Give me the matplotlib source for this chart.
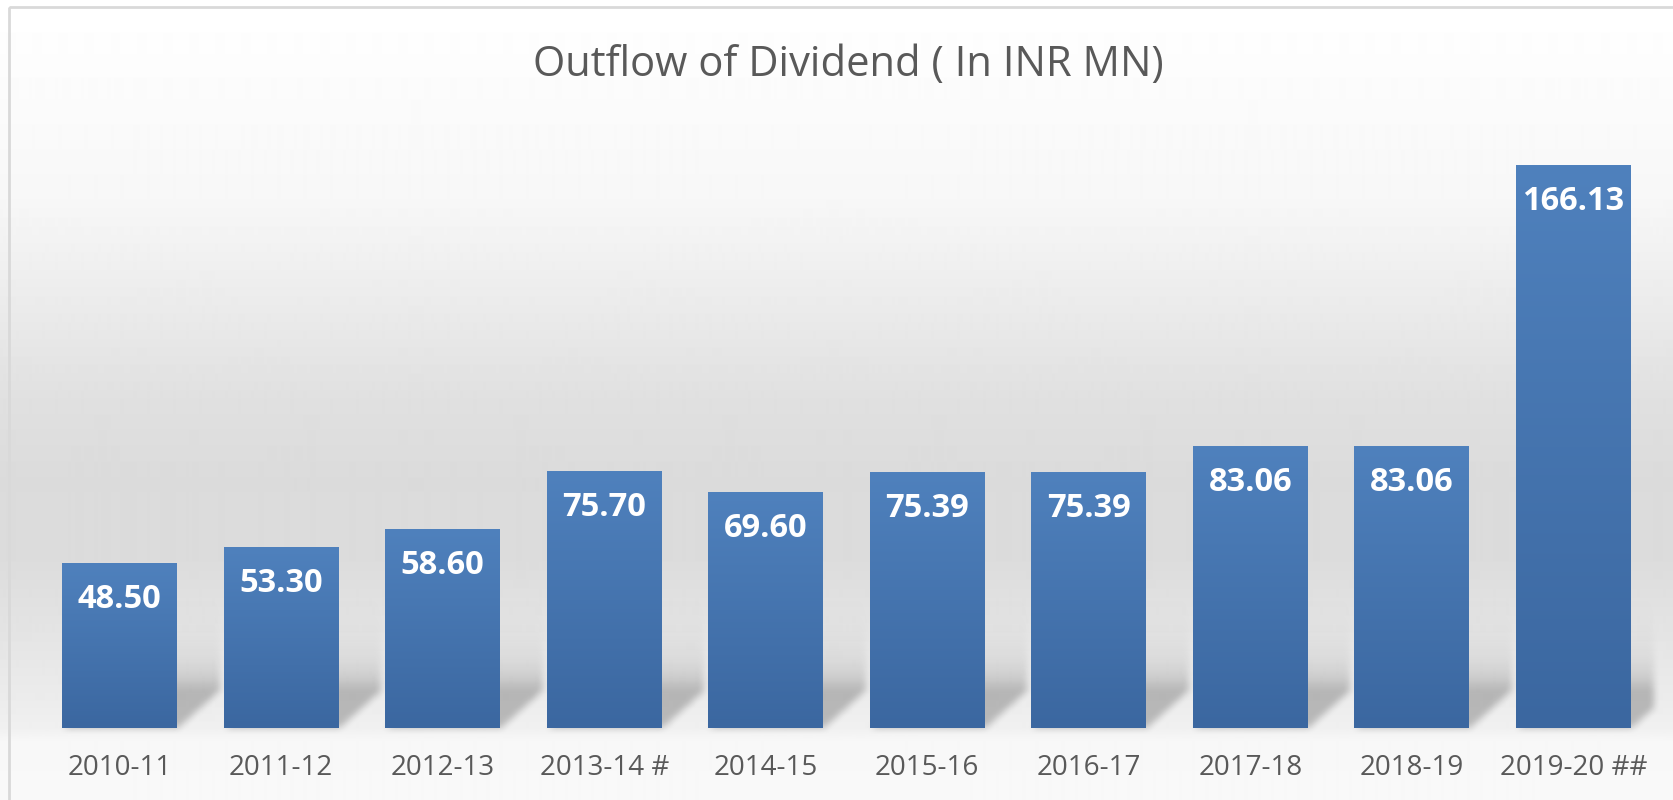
import numpy as np
import matplotlib
matplotlib.use("Agg")
import matplotlib.pyplot as plt
from matplotlib.colors import LinearSegmentedColormap
from matplotlib.patches import Rectangle

# data
years = ["2010-11", "2011-12", "2012-13", "2013-14 #", "2014-15",
         "2015-16", "2016-17", "2017-18", "2018-19", "2019-20 ##"]
dividend = [48.50, 53.30, 58.60, 75.70, 69.60, 75.39, 75.39, 83.06, 83.06, 166.13]
value_labels = ["48.50", "53.30", "58.60", "75.70", "69.60",
                "75.39", "75.39", "83.06", "83.06", "166.13"]
title = "Outflow of Dividend ( In INR MN)"

W, H = 1673, 800
plt.rcParams['font.family'] = ['Open Sans', 'DejaVu Sans']

fig = plt.figure(figsize=(W / 100, H / 100), dpi=100)

# background axes covering the whole figure, pixel coords (origin top-left)
bg = fig.add_axes([0, 0, 1, 1], zorder=0)
bg.set_xlim(0, W)
bg.set_ylim(H, 0)
bg.axis("off")

stops_y = [0, 10, 100, 200, 280, 400, 480, 560, 650, 700, 728, 740, 800]
stops_g = [255, 255, 251, 247, 238, 224, 219, 220, 230, 236, 240, 247, 249]
col = np.interp(np.arange(H), stops_y, stops_g) / 255.0
bg.imshow(np.repeat(col[:, None], 2, axis=1), cmap="gray", vmin=0, vmax=1,
          extent=(0, W, H, 0), aspect="auto", interpolation="bilinear")
bg.add_patch(Rectangle((9.5, 6.5), W + 20, H + 20, fill=False,
                       edgecolor="#d9d9d9", lw=2))

# main axes
ax = fig.add_axes([39 / W, 72 / H, 1615 / W, 610 / H], zorder=1)
ax.patch.set_alpha(0)
x = np.arange(len(years))
bw = 0.71
ax.set_xlim(-0.5, len(years) - 0.5)
ax.set_ylim(0, 180)

# floor shadow behind the bars, computed from the bar positions
Y, X = np.mgrid[0:H, 0:W].astype(float)
mask = np.zeros((H, W))
dx, dy = 42.0, 38.0
right_px = ax.transAxes.transform((1, 0))[0]
base_y = H
for xi, v in zip(x, dividend):
    (x0, yb), = ax.transData.transform([(xi - bw / 2, 0)])
    (x1, yt), = ax.transData.transform([(xi + bw / 2, v)])
    yb, yt = H - yb, H - yt
    t = (yb - Y) / dy
    para = (t >= 0) & (t <= 1) & (X >= x0 + t * dx) & (X <= x1 + t * dx)
    mask[para] = 1
    up = (Y < yb - dy) & (Y > yt - dy) & (X >= x0 + dx) & (X <= x1 + dx)
    mask = np.maximum(mask, np.where(up, np.exp(-(yb - dy - Y) / 22.0), 0))
    base_y = yb
mask[:, int(right_px):] = 0
mask[int(base_y):, :] = 0


def box_blur(a, r):
    for axis in (0, 1):
        pad = [(r + 1, r) if i == axis else (0, 0) for i in range(2)]
        c = np.cumsum(np.pad(a, pad, mode="edge"), axis=axis)
        if axis == 0:
            a = (c[2 * r + 1:, :] - c[:-2 * r - 1, :]) / (2 * r + 1)
        else:
            a = (c[:, 2 * r + 1:] - c[:, :-2 * r - 1]) / (2 * r + 1)
    return a


mask = box_blur(box_blur(mask, 4), 3)
shadow = np.zeros((H, W, 4))
shadow[..., 3] = 0.23 * mask
bg.imshow(shadow, extent=(0, W, H, 0), aspect="auto", interpolation="bilinear")

# bars with vertical gradient
bar_cmap = LinearSegmentedColormap.from_list("bar", ["#3b67a0", "#4f81bd"])
grad = np.linspace(0, 1, 256)[:, None]
bars = ax.bar(x, dividend, width=bw, color="#4677b2", zorder=2)
for b, v in zip(bars, dividend):
    ax.imshow(grad, cmap=bar_cmap, origin="lower", aspect="auto", zorder=3,
              extent=(b.get_x(), b.get_x() + b.get_width(), 0, v))
ax.set_xlim(-0.5, len(years) - 0.5)
ax.set_ylim(0, 180)

for xi, v, lab in zip(x, dividend, value_labels):
    ax.annotate(lab, (xi, v), xytext=(0, -26), textcoords="offset points",
                ha="center", va="center", color="white", fontsize=23.5,
                fontweight="bold", zorder=4)

ax.set_xticks(x, years)
ax.tick_params(axis="x", length=0, pad=18.5, labelsize=20, labelcolor="#595959")
ax.set_yticks([])
for s in ax.spines.values():
    s.set_visible(False)

fig.text(848 / W, 1 - 65 / H, title, ha="center", va="center",
         fontsize=30, color="#595959")

fig.savefig("out.png", dpi=100)
